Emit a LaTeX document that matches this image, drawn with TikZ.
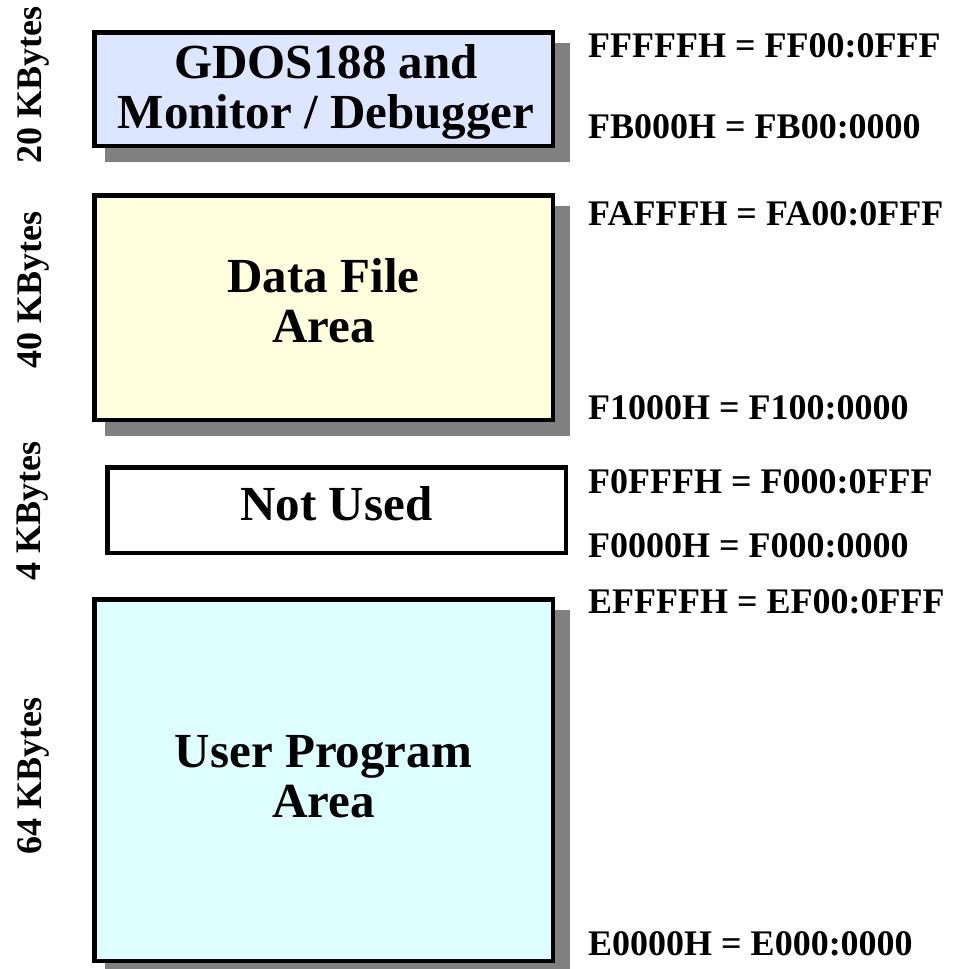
\documentclass[tikz,border=0pt]{standalone}
\usepackage{fontspec}
\setmainfont{Liberation Serif}
\usetikzlibrary{backgrounds}
\begin{document}
\begin{tikzpicture}[x=1pt,y=-1pt,
  memblock/.style={draw=black, line width=4.5pt, inner sep=0pt, minimum width=458.5pt},
  blocktext/.style={anchor=base, align=center, inner sep=0pt,
    font=\bfseries\fontsize{49}{50}\selectfont},
  addr/.style={anchor=base west, inner sep=0pt, font=\bfseries\fontsize{36}{40}\selectfont},
  sizelabel/.style={rotate=90, anchor=center, inner sep=0pt, font=\bfseries\fontsize{36}{40}\selectfont},
  blockshadow/.style={fill=shadowgray}]
\definecolor{gdosfill}{RGB}{221,230,255}
\definecolor{datafill}{RGB}{255,255,221}
\definecolor{userfill}{RGB}{221,255,255}
\definecolor{shadowgray}{RGB}{128,128,128}
\useasboundingbox (0,0) rectangle (963,969);

% memory blocks (outer edges given by the border's outside)
\node[memblock, fill=gdosfill, minimum height=113.5pt] (gdos) at (323.5,89) {};
\node[memblock, fill=datafill, minimum height=224.5pt] (data) at (323.5,307.5) {};
\node[memblock, fill=white, minimum height=85.5pt] (unused) at (336.5,510) {};
\node[memblock, fill=userfill, minimum height=361.5pt] (user) at (323.5,780) {};

% block names (anchored at the baseline of their last line)
\node[blocktext] (gdos-t) at (326,128) {GDOS188 and\\Monitor / Debugger};
\node[blocktext] (data-t) at (323.5,342) {Data File\\Area};
\node[blocktext] (unused-t) at (336.5,520) {Not Used};
\node[blocktext] (user-t) at (323.5,817) {User Program\\Area};

% drop shadows behind the shaded blocks
\begin{scope}[on background layer]
  \fill[white] (0,0) rectangle (963,969);
  \fill[blockshadow] ([shift={(13,13)}]gdos.north west) rectangle ([shift={(15,14)}]gdos.south east);
  \fill[blockshadow] ([shift={(13,13)}]data.north west) rectangle ([shift={(15,14)}]data.south east);
  \fill[blockshadow] ([shift={(13,13)}]user.north west) rectangle ([shift={(15,14)}]user.south east);
\end{scope}

% address labels
\node[addr] (a1) at (588,57) {FFFFFH = FF00:0FFF};
\node[addr] (a2) at (588,138) {FB000H = FB00:0000};
\node[addr] (a3) at (588,225) {FAFFFH = FA00:0FFF};
\node[addr] (a4) at (588,419) {F1000H = F100:0000};
\node[addr] (a5) at (588,493) {F0FFFH = F000:0FFF};
\node[addr] (a6) at (588,557) {F0000H = F000:0000};
\node[addr] (a7) at (588,613) {EFFFFH = EF00:0FFF};
\node[addr] (a8) at (588,955) {E0000H = E000:0000};

% block sizes
\node[sizelabel] (s1) at (33,85) {20 KBytes};
\node[sizelabel] (s2) at (33,290) {40 KBytes};
\node[sizelabel] (s3) at (33,511) {4 KBytes};
\node[sizelabel] (s4) at (33,776) {64 KBytes};
\end{tikzpicture}
\end{document}
